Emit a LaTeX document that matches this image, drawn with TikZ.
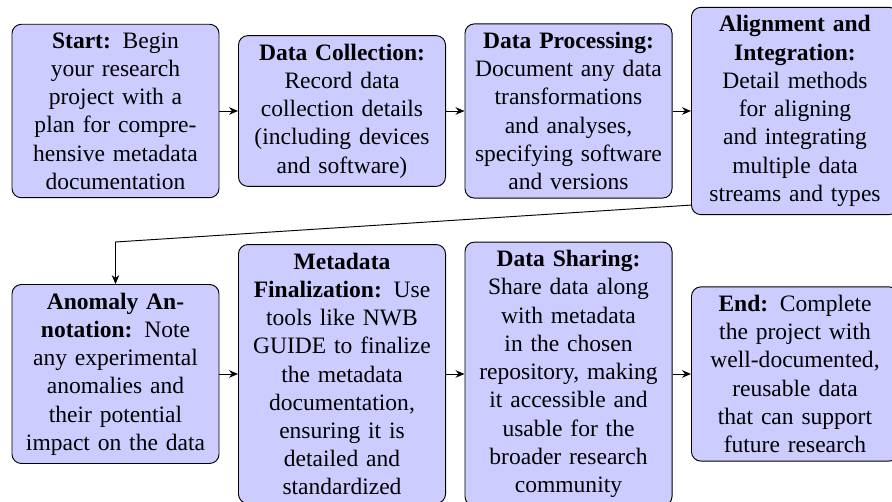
\documentclass[tikz,border=0pt]{standalone}
\usepackage{fontspec}
\setmainfont{Liberation Serif}
\newfontfamily\stagefont{Liberation Serif}
\usetikzlibrary{arrows.meta,calc}
\tikzset{
  stage/.style={draw, thin, fill=blue!20, rounded corners=4pt, align=center,
    text width=81pt, inner sep=3.5pt, font=\stagefont},
  link/.style={thin, -{Stealth[length=3.8pt,width=3.2pt]}}
}
\begin{document}
\begin{tikzpicture}[x=0.425pt,y=-0.425pt]
\useasboundingbox (0,0) rectangle (892,502);

% first row
\node[stage] (n1) at (115.5,111) {\textbf{Start:} Begin\\your research\\project with a\\plan for compre-\\hensive metadata\\documentation};
\node[stage] (n2) at (342,111) {\textbf{Data Collection:}\\Record data\\collection details\\(including devices\\and software)};
\node[stage] (n3) at (568.5,111) {\textbf{Data Processing:}\\Document any data\\transformations\\and analyses,\\specifying software\\and versions};
\node[stage] (n4) at (795,111) {\textbf{Alignment and}\\\textbf{Integration:}\\Detail methods\\for aligning\\and integrating\\multiple data\\streams and types};

% second row
\node[stage] (n5) at (115.5,374) {\textbf{Anomaly An-}\\\textbf{notation:} Note\\any experimental\\anomalies and\\their potential\\impact on the data};
\node[stage] (n6) at (342,374) {\textbf{Metadata}\\\textbf{Finalization:} Use\\tools like NWB\\GUIDE to finalize\\the metadata\\documentation,\\ensuring it is\\detailed and\\standardized};
\node[stage] (n7) at (568.5,374) {\textbf{Data Sharing:}\\Share data along\\with metadata\\in the chosen\\repository, making\\it accessible and\\usable for the\\broader research\\community};
\node[stage] (n8) at (795,374) {\textbf{End:} Complete\\the project with\\well-documented,\\reusable data\\that can support\\future research};

% connectors
\draw[link] (n1) -- (n2);
\draw[link] (n2) -- (n3);
\draw[link] (n3) -- (n4);
\coordinate (turn) at (115.5,242);
\draw[link] ($(n4.south west)+(0,-10)$) -- (turn) -- (n5.north);
\draw[link] (n5) -- (n6);
\draw[link] (n6) -- (n7);
\draw[link] (n7) -- (n8);
\end{tikzpicture}
\end{document}
